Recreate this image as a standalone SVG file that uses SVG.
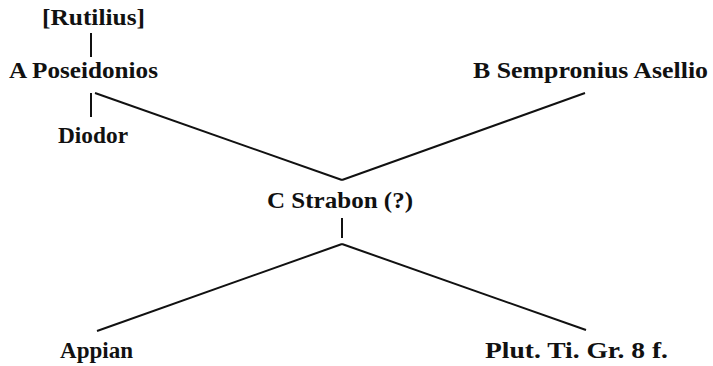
<svg xmlns="http://www.w3.org/2000/svg" width="713" height="366" viewBox="0 0 713 366">
<style>
.t{font-family:"Liberation Serif","Times New Roman",serif;font-weight:bold;font-size:23px;fill:#111}
.c{stroke:#111;stroke-width:2;fill:none;stroke-linecap:butt}
</style>
<rect width="713" height="366" fill="#fff"/>
<g id="connectors">
<line class="c" x1="91" y1="33" x2="91" y2="57"/>
<line class="c" x1="91" y1="93" x2="91" y2="117"/>
<line class="c" x1="95" y1="93" x2="342" y2="180"/>
<line class="c" x1="585" y1="93" x2="342" y2="180"/>
<line class="c" x1="342" y1="218" x2="342" y2="238"/>
<line class="c" x1="342" y1="244" x2="97" y2="331"/>
<line class="c" x1="342" y1="244" x2="586" y2="330"/>
</g>
<g id="rutilius"><text class="t" x="42" y="25" textLength="103" lengthAdjust="spacingAndGlyphs">[Rutilius]</text></g>
<g id="poseidonios"><text class="t" x="9" y="78" textLength="149" lengthAdjust="spacingAndGlyphs">A Poseidonios</text></g>
<g id="diodor"><text class="t" x="58" y="143" textLength="70" lengthAdjust="spacingAndGlyphs">Diodor</text></g>
<g id="sempronius"><text class="t" x="473" y="78" textLength="235" lengthAdjust="spacingAndGlyphs">B Sempronius Asellio</text></g>
<g id="strabon"><text class="t" x="267" y="208" textLength="146" lengthAdjust="spacingAndGlyphs">C Strabon (?)</text></g>
<g id="appian"><text class="t" x="60" y="358" textLength="73" lengthAdjust="spacingAndGlyphs">Appian</text></g>
<g id="plutarch"><text class="t" x="485" y="358" textLength="183" lengthAdjust="spacingAndGlyphs">Plut. Ti. Gr. 8 f.</text></g>
</svg>
